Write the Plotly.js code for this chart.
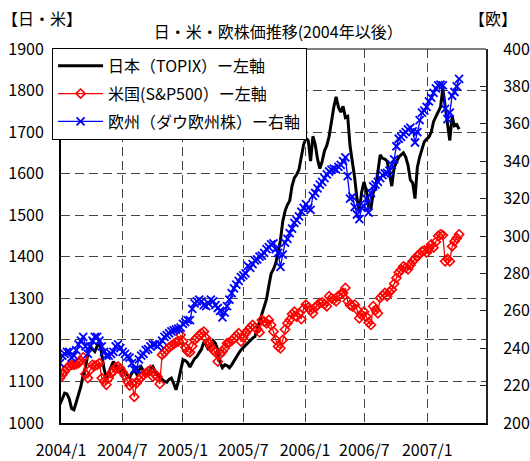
<!DOCTYPE html>
<html><head><meta charset="utf-8">
<script src="https://cdn.plot.ly/plotly-3.0.1.min.js"></script>
<style>html,body{margin:0;padding:0;background:#fff}#chart{width:530px;height:461px}</style>
</head><body><div id="chart"></div>
<script>
const tickLabels = ['2004/1', '2004/7', '2005/1', '2005/7', '2006/1', '2006/7', '2007/1'];
const seriesNames = ['日本（TOPIX）ー左軸', '米国(S&amp;P500）ー左軸', '欧州（ダウ欧州株）ー右軸'];

// weekly closes, 2004/1 to 2007/4
const topix = [
  1045,1060,1072,1070,1058,1035,1032,1050,1068,1088,
  1115,1135,1165,1185,1178,1172,1185,1195,1165,1130,
  1108,1120,1135,1148,1140,1130,1125,1135,1122,1115,
  1110,1120,1128,1118,1128,1135,1125,1118,1120,1130,
  1136,1125,1118,1110,1105,1100,1098,1105,1108,1095,
  1080,1100,1130,1152,1150,1145,1135,1145,1155,1160,
  1170,1178,1195,1188,1176,1185,1198,1192,1176,1145,
  1133,1140,1138,1133,1140,1150,1160,1168,1176,1182,
  1188,1193,1198,1204,1208,1225,1245,1262,1280,1298,
  1330,1360,1370,1385,1410,1440,1485,1510,1525,1535,
  1570,1590,1598,1610,1640,1670,1685,1680,1630,1690,
  1670,1635,1612,1630,1655,1668,1690,1730,1760,1785,
  1760,1748,1762,1735,1738,1667,1630,1590,1540,1510,
  1555,1580,1560,1525,1515,1555,1565,1600,1645,1637,
  1635,1630,1598,1570,1615,1630,1640,1645,1650,1640,
  1620,1585,1578,1540,1615,1640,1660,1677,1683,1688,
  1700,1725,1737,1748,1760,1805,1755,1720,1680,1738,
  1715,1718,1707
];
const sp500 = [
  1108,1116,1124,1132,1138,1140,1140,1142,1144,1150,
  1158,1118,1108,1128,1140,1138,1140,1144,1108,1100,
  1092,1108,1120,1124,1134,1136,1130,1122,1114,1100,
  1090,1096,1063,1096,1104,1110,1116,1120,1124,1128,
  1112,1116,1112,1094,1164,1170,1176,1182,1186,1190,
  1194,1196,1212,1196,1182,1172,1170,1185,1200,1205,
  1212,1216,1220,1204,1194,1184,1176,1170,1148,1165,
  1172,1180,1192,1194,1198,1204,1210,1216,1196,1206,
  1216,1224,1230,1236,1230,1226,1218,1248,1244,1240,
  1248,1236,1220,1200,1184,1180,1200,1225,1240,1248,
  1262,1268,1256,1264,1250,1275,1285,1278,1272,1264,
  1278,1284,1289,1290,1286,1281,1305,1300,1297,1293,
  1306,1310,1313,1325,1293,1284,1281,1285,1273,1252,
  1260,1268,1256,1242,1236,1281,1272,1264,1301,1307,
  1313,1305,1315,1321,1335,1349,1362,1369,1377,1374,
  1370,1380,1389,1395,1402,1406,1413,1415,1410,1420,
  1430,1422,1436,1450,1454,1452,1389,1395,1389,1425,
  1437,1445,1454
];
const euroStoxx = [
  232,236,237,238,238,235,236,239,242,244,
  246,241,237,241,244,246,246,244,241,238,
  236,236,237,238,241,242,240,238,237,235.5,
  235,232,228.5,229,234,236,237,239,239.5,241,
  242,242,241,242,244,246,247,248,249,249.5,
  250,250.5,251,253,254,255,255,261,264,265,
  266,265,263,262.5,264,266,265,263,261.5,260,
  256.5,259,262.5,266,269.5,272,274,276,278,279,
  280,284,283,285,287,287.5,289,289.5,291,293,
  294,295.5,296,293,291,283.5,290,296.5,298.5,301.5,
  304,307,308.5,310.5,313,315,317,315,314,321.5,
  323,325.5,327.5,329,331,333,334.5,335.5,336,335.5,
  337,338,340,342,332,320,321,315.5,311.5,309,
  315,316,320,312.5,323,326.5,327.5,329,331,332.5,
  333.5,333.8,335,338,341,348,352,353,354.5,355.5,
  357,358,356,350,355.5,362,366,367,369,372,
  374,376.5,379,380.5,381,380.5,368,362.5,366,375,
  377,380,384
];

const weekIndex = topix.map((_, i) => i);
const tickPos = [0.43, 26.85, 52.9, 79.0, 105.6, 131.2, 158.3];
const FONT = '"Noto Sans CJK JP", "Noto Sans", sans-serif';

const traces = [
  {x: weekIndex, y: topix, name: seriesNames[0], legendgroup: 'g1', type: 'scatter', mode: 'lines',
   line: {color: '#000000', width: 3}},
  {x: weekIndex, y: sp500, name: seriesNames[1], legendgroup: 'g2', type: 'scatter', mode: 'lines+markers',
   line: {color: '#ff0000', width: 1.3},
   marker: {symbol: 'diamond-open', size: 7, color: '#ff0000', line: {width: 1.6, color: '#ff0000'}}},
  {x: weekIndex, y: euroStoxx, name: seriesNames[2], legendgroup: 'g3', yaxis: 'y2', type: 'scatter', mode: 'lines+markers',
   line: {color: '#0000ff', width: 1.3},
   marker: {symbol: 'x-thin', size: 8, color: '#0000ff', line: {width: 1.8, color: '#0000ff'}}}
];

const layout = {
  width: 530, height: 461,
  margin: {l: 61, r: 44, t: 49, b: 38},
  paper_bgcolor: '#ffffff', plot_bgcolor: '#ffffff',
  font: {family: FONT, size: 16, color: '#000'},
  showlegend: true,
  title: {text: '日・米・欧株価推移(2004年以後）', font: {family: FONT, size: 16, color: '#000'},
          x: 0.511, xanchor: 'center', xref: 'paper', y: 0.93, yanchor: 'middle'},
  xaxis: {
    range: [0.43, 183.6], tickmode: 'array', tickvals: tickPos, ticktext: tickLabels,
    showgrid: true, gridcolor: '#444', gridwidth: 1, griddash: '9px,5px',
    showline: true, linecolor: '#000', linewidth: 2, ticks: '', zeroline: false,
    tickfont: {family: FONT, size: 16}, ticklabelstandoff: 12
  },
  yaxis: {
    range: [1000, 1900], dtick: 100, tick0: 1000,
    showgrid: true, gridcolor: '#444', gridwidth: 1, griddash: '9px,5px',
    showline: true, linecolor: '#000', linewidth: 2, ticks: '', zeroline: false,
    tickfont: {family: FONT, size: 16}, ticklabelstandoff: 12
  },
  yaxis2: {
    range: [200, 400], dtick: 20, tick0: 200, overlaying: 'y', side: 'right',
    showgrid: false, showline: true, linecolor: '#222', linewidth: 2,
    ticks: 'inside', ticklen: 6, tickcolor: '#222', tickwidth: 1, zeroline: false,
    tickfont: {family: FONT, size: 16}, ticklabelstandoff: 12
  },
  legend: {
    x: -0.021, y: 1.003, xanchor: 'left', yanchor: 'top',
    bgcolor: '#ffffff', bordercolor: '#000', borderwidth: 1, itemwidth: 45,
    font: {family: FONT, size: 16, color: '#000'}, tracegroupgap: 4
  },
  shapes: [
    {type: 'line', xref: 'paper', yref: 'paper', x0: 0, x1: 1, y0: 1, y1: 1,
     line: {color: '#000', width: 1}, layer: 'above'}
  ],
  annotations: [
    {text: '【日・米】', xref: 'paper', yref: 'paper', x: (42 - 61) / 425, y: (423 - 18) / 374,
     xanchor: 'center', yanchor: 'middle', showarrow: false, font: {family: FONT, size: 16}},
    {text: '【欧】', xref: 'paper', yref: 'paper', x: (493 - 61) / 425, y: (423 - 18) / 374,
     xanchor: 'center', yanchor: 'middle', showarrow: false, font: {family: FONT, size: 16}}
  ]
};

Plotly.newPlot('chart', traces, layout, {displayModeBar: false, staticPlot: true});
</script>
</body></html>
